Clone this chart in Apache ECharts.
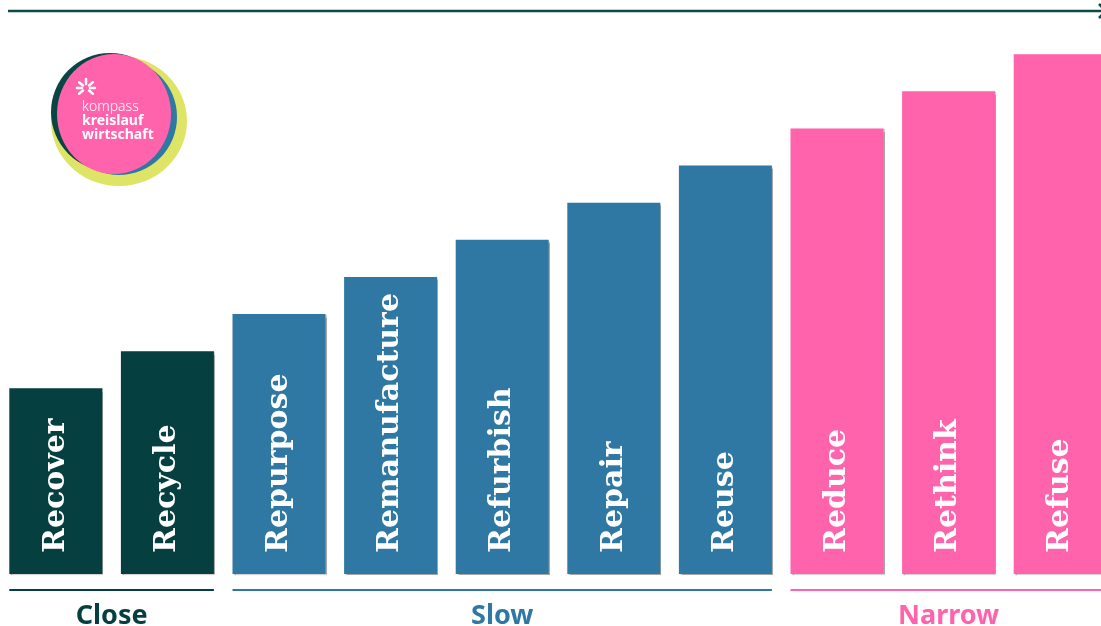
<!DOCTYPE html>
<html>
<head>
<meta charset="utf-8">
<script src="https://cdn.jsdelivr.net/npm/echarts@6/dist/echarts.min.js"></script>
<style>
html,body{margin:0;padding:0;background:#fff;overflow:hidden;}
#chart{width:1116px;height:626px;}
</style>
</head>
<body>
<div id="chart"></div>
<script>
// ---- data ----
const categories = ['Recover','Recycle','Repurpose','Remanufacture','Refurbish','Repair','Reuse','Reduce','Rethink','Refuse'];
const values = [5, 6, 7, 8, 9, 10, 11, 12, 13, 14];
const groupOfCategory = ['Close','Close','Slow','Slow','Slow','Slow','Slow','Narrow','Narrow','Narrow'];
const groups = ['Close','Slow','Narrow'];
const groupRanges = [[0, 1], [2, 6], [7, 9]];
const groupColors = {Close: '#053f3f', Slow: '#2e78a3', Narrow: '#ff63ac'};

const BAR_W = 93;

const chart = echarts.init(document.getElementById('chart'), null, {renderer: 'canvas'});

// logo rays
const rays = [];
const rayAngles = [-90, -40, 0, 40, 140, 180, 220];
rayAngles.forEach(a => {
  const r = a * Math.PI / 180;
  rays.push({
    type: 'line',
    shape: {x1: 86 + Math.cos(r) * 4, y1: 88 + Math.sin(r) * 4, x2: 86 + Math.cos(r) * 9, y2: 88 + Math.sin(r) * 9},
    style: {stroke: '#fff', lineWidth: 2.5, lineCap: 'round'},
    z: 20
  });
});

const option = {
  animation: false,
  backgroundColor: '#ffffff',
  grid: {left: 0, right: 0, top: 17, bottom: 52, containLabel: false, outerBoundsMode: 'none'},
  xAxis: {
    type: 'category',
    data: categories,
    show: false
  },
  yAxis: {type: 'value', min: 0, max: 15, show: false},
  graphic: [
    {type: 'line', shape: {x1: 8, y1: 11, x2: 1106, y2: 11}, style: {stroke: '#0d4a4a', lineWidth: 2.5}},
    {type: 'polyline', shape: {points: [[1099, 4], [1106, 11], [1099, 18]]}, style: {stroke: '#0d4a4a', lineWidth: 2.5, fill: null}},
    // logo
    {type: 'ellipse', shape: {cx: 119, cy: 121, rx: 68, ry: 65}, style: {fill: '#dde466'}, z: 10},
    {type: 'circle', shape: {cx: 110, cy: 112, r: 59}, style: {fill: '#0a4545'}, z: 11},
    {type: 'circle', shape: {cx: 119, cy: 117, r: 58}, style: {fill: '#2e78a3'}, z: 12},
    {type: 'ellipse', shape: {cx: 114, cy: 114, rx: 57, ry: 60}, style: {fill: '#ff63ac'}, z: 13},
    ...rays,
    {type: 'text', left: 82, top: 100, style: {text: 'kompass', fill: '#fff', font: '300 14px "Noto Sans"'}, z: 20},
    {type: 'text', left: 82, top: 114, style: {text: 'kreislauf', fill: '#fff', font: 'bold 14px "Noto Sans"'}, z: 20},
    {type: 'text', left: 82, top: 128, style: {text: 'wirtschaft', fill: '#fff', font: 'bold 14px "Noto Sans"'}, z: 20}
  ],
  series: [
    {
      type: 'bar',
      data: values,
      barWidth: BAR_W,
      itemStyle: {
        color: p => groupColors[groupOfCategory[p.dataIndex]],
        shadowColor: 'rgba(0,0,0,0.35)',
        shadowOffsetX: 1,
        shadowOffsetY: 1,
        shadowBlur: 1
      },
      label: {
        show: true,
        formatter: p => categories[p.dataIndex],
        position: 'insideBottom',
        rotate: 90,
        align: 'left',
        verticalAlign: 'middle',
        distance: 21,
        color: '#ffffff',
        fontFamily: '"DejaVu Serif"',
        fontWeight: 'bold',
        fontSize: 30
      }
    },
    {
      type: 'custom',
      clip: false,
      silent: true,
      data: groupRanges.map(r => [r[0], r[1], 0]),
      encode: {x: [0, 1], y: 2},
      renderItem: (params, api) => {
        const name = groups[params.dataIndex];
        const col = groupColors[name];
        const s = api.coord([api.value(0), 0]);
        const e = api.coord([api.value(1), 0]);
        const x1 = s[0] - BAR_W / 2;
        const x2 = e[0] + BAR_W / 2;
        const y = s[1] + 16;
        return {
          type: 'group',
          children: [
            {type: 'line', shape: {x1: x1, y1: y, x2: x2, y2: y}, style: {stroke: col, lineWidth: 2}},
            {type: 'text', x: (x1 + x2) / 2, y: y + 26,
              style: {text: name, fill: col, font: 'bold 27px "Noto Sans"', textAlign: 'center', textVerticalAlign: 'middle'}}
          ]
        };
      }
    }
  ]
};
chart.setOption(option);
</script>
</body>
</html>
